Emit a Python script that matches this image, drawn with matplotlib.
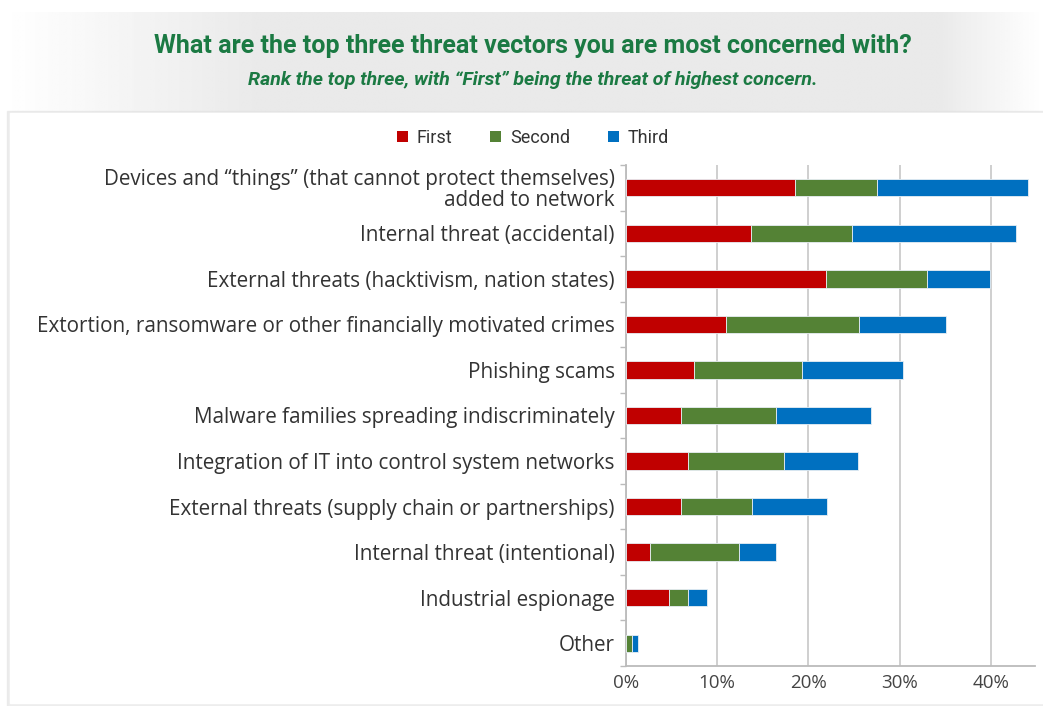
import numpy as np
import matplotlib.pyplot as plt
from matplotlib.patches import Patch, Rectangle

categories = [
    "Devices and \u201cthings\u201d (that cannot protect themselves)\nadded to network",
    "Internal threat (accidental)",
    "External threats (hacktivism, nation states)",
    "Extortion, ransomware or other financially motivated crimes",
    "Phishing scams",
    "Malware families spreading indiscriminately",
    "Integration of IT into control system networks",
    "External threats (supply chain or partnerships)",
    "Internal threat (intentional)",
    "Industrial espionage",
    "Other",
]
first = [18.5, 13.7, 21.9, 11.0, 7.5, 6.1, 6.8, 6.1, 2.7, 4.7, 0.0]
second = [9.0, 11.1, 11.1, 14.5, 11.8, 10.4, 10.5, 7.7, 9.7, 2.1, 0.7]
third = [16.5, 17.9, 6.9, 9.6, 11.0, 10.3, 8.1, 8.2, 4.1, 2.1, 0.65]
series_names = ["First", "Second", "Third"]
colors = ["#C00000", "#548235", "#0070C0"]
xticks = [0, 10, 20, 30, 40]

W, H = 1043, 706
fig = plt.figure(figsize=(W / 100, H / 100), dpi=100)
fig.patch.set_facecolor("white")

# grey header band with soft gradient edges
band = fig.add_axes([0, 1 - 112 / H, 1, 100 / H])
xs = np.linspace(0, 1, 400)
fade = np.clip(np.minimum(xs / 0.25, (1 - xs) / 0.1), 0, 1)
grad = 1 - fade * (1 - 0.915)
band.imshow(np.tile(grad, (10, 1)), cmap="gray", vmin=0, vmax=1, aspect="auto",
            extent=[0, 1, 0, 1])
band.set_axis_off()

# white panel with a faint shadow
bg = fig.add_axes([0, 0, 1, 1])
bg.set_xlim(0, W)
bg.set_ylim(H, 0)
bg.set_axis_off()
bg.add_patch(Rectangle((7, 111), W, 596, color="#E2E2E2", alpha=0.6))
bg.add_patch(Rectangle((10, 113), W, 590, color="white"))

green = "#1B7A43"
fig.text(0.511, 1 - 46 / H, "What are the top three threat vectors you are most concerned with?",
         ha="center", va="center", fontsize=18, fontweight="bold", color=green, family="Roboto")
fig.text(0.511, 1 - 80 / H, "Rank the top three, with \u201cFirst\u201d being the threat of highest concern.",
         ha="center", va="center", fontsize=14, fontweight="bold", style="italic",
         color=green, family="Roboto")

ax = fig.add_axes([625.7 / W, 1 - 666 / H, (1035 - 625.7) / W, 501 / H])
ax.set_facecolor("none")
y = np.arange(len(categories))
left = np.zeros(len(categories))
for vals, c in zip([first, second, third], colors):
    ax.barh(y, vals, left=left, height=0.38, color=c, edgecolor="#E8EEF4",
            linewidth=0.6, zorder=3)
    left += np.array(vals)

ax.set_ylim(len(categories) - 0.5, -0.5)
ax.set_xlim(0, 44.8)
ax.set_xticks(xticks)
ax.set_xticklabels([f"{t}%" for t in xticks], fontsize=13.5, color="#444444", family="Open Sans")
ax.tick_params(axis="x", length=0, pad=6)
ax.xaxis.grid(True, color="#CCCCCC", linewidth=1.3, zorder=0)

ax.set_yticks(y)
ax.set_yticklabels(categories, fontsize=14.9, color="#333333", family="Open Sans",
                   linespacing=1.0)
ax.set_yticks(np.arange(-0.5, len(categories)), minor=True)
ax.tick_params(axis="y", which="major", length=0, pad=8)
ax.tick_params(axis="y", which="minor", length=4, color="#BBBBBB", width=1)

for s in ["top", "right"]:
    ax.spines[s].set_visible(False)
for s in ["left", "bottom"]:
    ax.spines[s].set_color("#BBBBBB")
    ax.spines[s].set_linewidth(1.3)

handles = [Patch(facecolor=c, label=n) for c, n in zip(colors, series_names)]
fig.legend(handles=handles, loc="center", bbox_to_anchor=(0.511, 1 - 138 / H), ncol=3,
           frameon=False, prop={"family": "Roboto", "size": 13}, handlelength=0.6,
           handleheight=0.6, handletextpad=0.5, columnspacing=2.1,
           labelcolor="#333333")

fig.savefig("out.png", dpi=100)
